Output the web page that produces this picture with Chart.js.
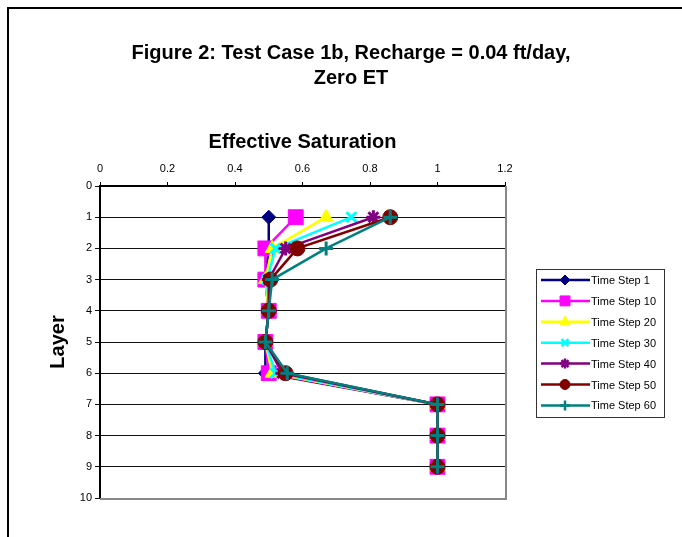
<!DOCTYPE html>
<html><head><meta charset="utf-8">
<script src="https://cdn.jsdelivr.net/npm/chart.js@4"></script>
<style>html,body{margin:0;padding:0;background:#fff}#wrap{width:682px;height:537px}</style>
</head><body><div id="wrap"><canvas id="c" width="682" height="537"></canvas></div>
<script>
const titleLines = ['Figure 2: Test Case 1b, Recharge = 0.04 ft/day,', 'Zero ET'];
const xTitle = 'Effective Saturation';
const yTitle = 'Layer';
const layers = [1, 2, 3, 4, 5, 6, 7, 8, 9];
const seriesNames = ['Time Step 1', 'Time Step 10', 'Time Step 20', 'Time Step 30', 'Time Step 40', 'Time Step 50', 'Time Step 60'];
const ts1  = [0.50, 0.50, 0.49, 0.50, 0.49, 0.49, 1.0, 1.0, 1.0];
const ts10 = [0.58, 0.49, 0.49, 0.50, 0.49, 0.50, 1.0, 1.0, 1.0];
const ts20 = [0.67, 0.51, 0.49, 0.50, 0.49, 0.51, 1.0, 1.0, 1.0];
const ts30 = [0.745, 0.52, 0.495, 0.50, 0.49, 0.52, 1.0, 1.0, 1.0];
const ts40 = [0.81, 0.55, 0.50, 0.50, 0.49, 0.54, 1.0, 1.0, 1.0];
const ts50 = [0.86, 0.585, 0.505, 0.50, 0.49, 0.55, 1.0, 1.0, 1.0];
const ts60 = [0.86, 0.67, 0.51, 0.50, 0.49, 0.555, 1.0, 1.0, 1.0];
const seriesValues = [ts1, ts10, ts20, ts30, ts40, ts50, ts60];
const seriesColors = ['#000080', '#FF00FF', '#FFFF00', '#00FFFF', '#800080', '#800000', '#008080'];
const seriesMarkers = ['rectRot', 'rect', 'triangle', 'crossRot', 'star', 'circle', 'cross'];
const markerRadius = [7, 10.5, 8, 7, 7, 7.5, 7];
const legendRadius = [5, 7, 5.5, 5, 5, 5, 5];
const xMin = 0, xMax = 1.2, xStep = 0.2;
const yMin = 0, yMax = 10, yStep = 1;

const FONT = "Arial, 'Liberation Sans', sans-serif";
const isStroke = s => s === 'cross' || s === 'crossRot' || s === 'star';

const datasets = seriesNames.map((name, i) => ({
  label: name,
  data: layers.map((l, j) => ({x: seriesValues[i][j], y: l})),
  borderColor: seriesColors[i],
  backgroundColor: seriesColors[i],
  borderWidth: 2.5,
  pointStyle: seriesMarkers[i],
  pointRadius: markerRadius[i],
  pointHoverRadius: markerRadius[i],
  pointBorderWidth: isStroke(seriesMarkers[i]) ? 3 : 1,
  pointBorderColor: seriesColors[i],
  pointBackgroundColor: seriesColors[i],
  showLine: true,
  tension: 0,
  order: seriesNames.length - i
}));

const framePlugin = {
  id: 'frame',
  beforeDraw(chart) {
    const ctx = chart.ctx;
    ctx.save();
    ctx.fillStyle = '#fff';
    ctx.fillRect(0, 0, chart.width, chart.height);
    ctx.strokeStyle = '#000';
    ctx.lineWidth = 2;
    ctx.beginPath();
    ctx.moveTo(8, chart.height);
    ctx.lineTo(8, 8);
    ctx.lineTo(chart.width, 8);
    ctx.stroke();
    ctx.fillStyle = '#000';
    ctx.font = 'bold 20px ' + FONT;
    ctx.textAlign = 'center';
    ctx.textBaseline = 'middle';
    titleLines.forEach((t, k) => ctx.fillText(t, 351, 53 + k * 25));
    ctx.restore();
  },
  beforeDatasetsDraw(chart) {
    const {ctx, chartArea: a} = chart;
    ctx.save();
    ctx.strokeStyle = '#888';
    ctx.lineWidth = 2;
    ctx.beginPath();
    ctx.moveTo(a.left, a.bottom + 1);
    ctx.lineTo(a.right + 1, a.bottom + 1);
    ctx.lineTo(a.right + 1, a.top);
    ctx.stroke();
    ctx.restore();
  },
  afterDraw(chart) {
    const ctx = chart.ctx;
    ctx.save();
    const bx = 536, by = 269, bw = 128, bh = 148;
    ctx.strokeStyle = '#333';
    ctx.lineWidth = 1;
    ctx.strokeRect(bx + 0.5, by + 0.5, bw, bh);
    ctx.font = '11px ' + FONT;
    ctx.textAlign = 'left';
    ctx.textBaseline = 'middle';
    chart.data.datasets.forEach((ds, i) => {
      const y = 280 + i * 20.9;
      ctx.strokeStyle = ds.borderColor;
      ctx.lineWidth = 2.5;
      ctx.beginPath();
      ctx.moveTo(541, y);
      ctx.lineTo(590, y);
      ctx.stroke();
      ctx.fillStyle = ds.borderColor;
      ctx.lineWidth = isStroke(ds.pointStyle) ? 2.5 : 1;
      Chart.helpers.drawPoint(ctx, {pointStyle: ds.pointStyle, radius: legendRadius[i], borderWidth: ctx.lineWidth, rotation: 0}, 565, y);
      ctx.fillStyle = '#000';
      ctx.fillText(ds.label, 591, y + 1);
    });
    ctx.restore();
  }
};

new Chart(document.getElementById('c'), {
  type: 'scatter',
  data: {datasets},
  plugins: [framePlugin],
  options: {
    responsive: false,
    devicePixelRatio: 1,
    animation: false,
    layout: {padding: {left: 40, top: 120, right: 177, bottom: 39}},
    plugins: {legend: {display: false}, title: {display: false}, tooltip: {enabled: false}},
    scales: {
      x: {
        type: 'linear', position: 'top', min: xMin, max: xMax,
        afterFit(s) { s.height = 66; },
        ticks: {stepSize: xStep, color: '#000', font: {family: FONT, size: 11}, padding: 6, maxRotation: 0,
          callback: v => String(Math.round(v * 10) / 10)},
        grid: {drawOnChartArea: false, drawTicks: true, tickLength: 4, color: '#000', lineWidth: 1},
        border: {display: true, color: '#000', width: 2},
        title: {display: true, text: xTitle, color: '#000', font: {family: FONT, size: 20, weight: 'bold'}, padding: {top: 10, bottom: 0}}
      },
      y: {
        type: 'linear', reverse: true, min: yMin, max: yMax,
        afterFit(s) { s.width = 60; },
        ticks: {stepSize: yStep, color: '#000', font: {family: FONT, size: 11}, padding: 3},
        grid: {drawOnChartArea: true, drawTicks: true, tickLength: 5, color: '#111', lineWidth: 1},
        border: {display: true, color: '#000', width: 2},
        title: {display: true, text: yTitle, color: '#000', font: {family: FONT, size: 20, weight: 'bold'}, padding: {top: 6, bottom: 0}}
      }
    }
  }
});
</script>
</body></html>
